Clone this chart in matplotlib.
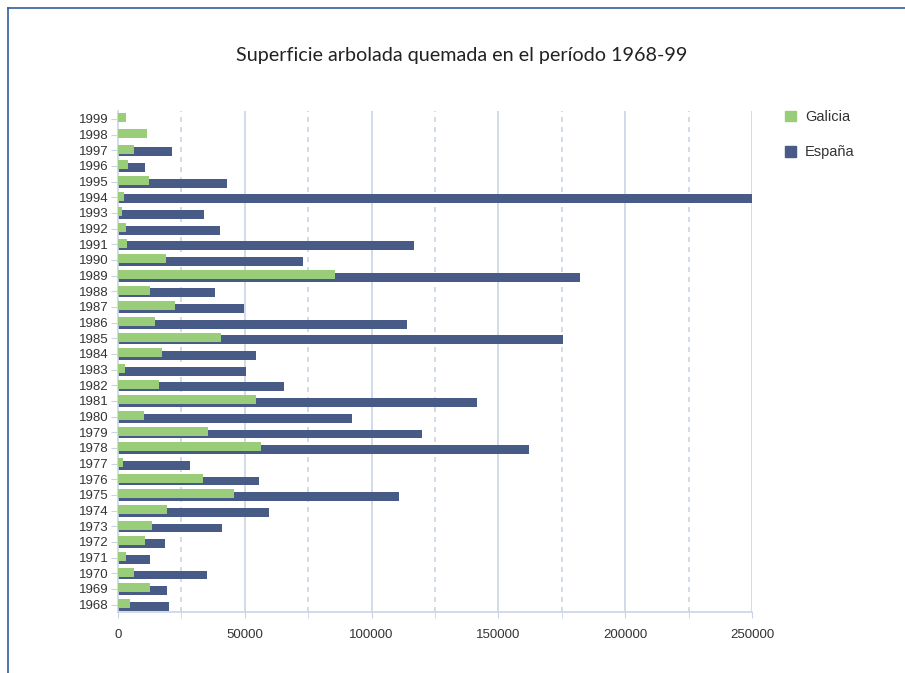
#import used libraries
import numpy as np
from matplotlib import pyplot as plt
from matplotlib.lines import Line2D
from matplotlib.patches import Patch

#data
years = list(range(1968, 2000))
galicia = [4900, 12500, 6500, 3000, 10500, 13600, 19200, 45700, 33400, 1800,
           56300, 35400, 10100, 54300, 16000, 2600, 17200, 40500, 14400, 22300,
           12500, 85600, 18900, 3500, 3000, 1600, 2200, 12200, 3900, 6200,
           11400, 3000]
espana = [20000, 19200, 35000, 12500, 18400, 40900, 59500, 110900, 55500, 28300,
          161900, 120000, 92300, 141700, 65400, 50400, 54300, 175300, 114000, 49600,
          38100, 182000, 72900, 116800, 40200, 33900, 250000, 42900, 10600, 21200,
          0, 0]
x_ticks = [0, 50000, 100000, 150000, 200000, 250000]
x_minor = [25000, 75000, 125000, 175000, 225000]

#colours
green = '#99cd79'
blue = '#475b86'
grid_col = '#c9d4e4'
text_col = '#333333'

tick_font = ['Liberation Sans', 'DejaVu Sans']

fig = plt.figure(figsize=(9.05, 6.73), dpi=100)
ax = fig.add_axes([118/905, 1-612/673, (752-118)/905, (612-111)/673])

pos = np.arange(len(years))
ax.barh(pos - 0.11, espana, height=0.57, color=blue, zorder=2, label='España')
ax.barh(pos + 0.07, galicia, height=0.57, color=green, zorder=3, label='Galicia')

ax.set_xlim(0, 250000)
ax.set_ylim(-0.47, len(years) - 0.5)

#grid lines
for v in x_ticks[1:]:
    ax.axvline(v, color=grid_col, lw=1.2, zorder=1)
for v in x_minor:
    ax.axvline(v, color=grid_col, lw=1.2, ls=(0, (3, 3)), zorder=1)

ax.set_xticks(x_ticks)
ax.set_xticks(x_minor, minor=True)
ax.set_xticklabels([str(v) for v in x_ticks], family=tick_font, fontsize=9.5, color=text_col)
ax.set_yticks(pos)
ax.set_yticklabels([str(y) for y in years], family=tick_font, fontsize=9.5, color=text_col)
ax.tick_params(axis='x', which='both', length=4, color=grid_col, pad=8)
ax.tick_params(axis='y', length=5, color=grid_col, pad=2)

for side in ['top', 'right']:
    ax.spines[side].set_visible(False)
for side in ['left', 'bottom']:
    ax.spines[side].set_color(grid_col)
    ax.spines[side].set_linewidth(1.2)

#title
fig.text(462/905, 1-55/673, 'Superficie arbolada quemada en el período 1968-99',
         ha='center', va='center', fontsize=14.2, family=['Lato', 'DejaVu Sans'], color='#222222')

#legend
handles = [Patch(color=green, label='Galicia'), Patch(color=blue, label='España')]
fig.legend(handles=handles, loc='upper left', bbox_to_anchor=(772/905, 1-97/673),
           frameon=False, handlelength=0.75, handleheight=0.75, handletextpad=0.6,
           labelspacing=1.45, prop={'family': tick_font, 'size': 10.5}, labelcolor=text_col)

#frame around the picture
fig.add_artist(Line2D([8/905, 8/905], [0, 1-8/673], color='#2f5f9e', lw=1.2))
fig.add_artist(Line2D([8/905, 1], [1-8/673, 1-8/673], color='#2f5f9e', lw=1.2))

plt.savefig('out.png', dpi=100)
plt.close()
